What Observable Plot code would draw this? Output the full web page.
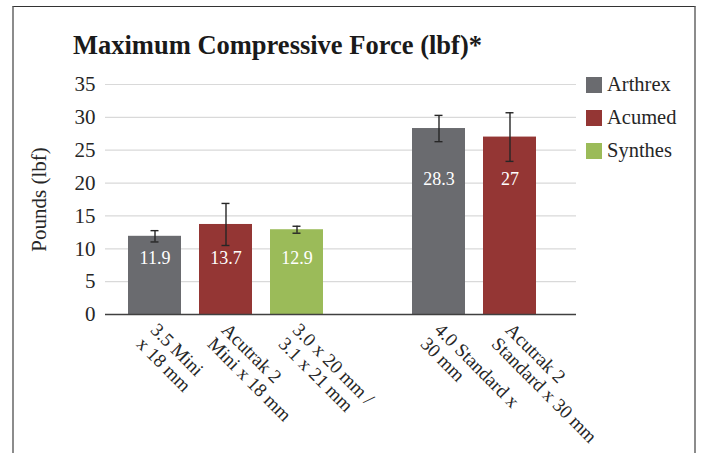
<!DOCTYPE html>
<html><head><meta charset="utf-8">
<script src="https://cdn.jsdelivr.net/npm/d3@7"></script>
<script src="https://cdn.jsdelivr.net/npm/@observablehq/plot@0.6"></script>
<style>
body{margin:0;background:#fff;}
#wrap{position:relative;width:702px;height:453px;overflow:hidden;font-family:"Liberation Serif","Times New Roman",serif;}
#frame{position:absolute;left:12px;top:6px;width:680px;height:470px;border-top:1.5px solid #333;border-left:2px solid #8c8c8c;border-right:2px solid #8c8c8c;}
#title{position:absolute;left:73px;top:30px;font-family:"Liberation Serif",serif;font-weight:bold;font-size:26.5px;color:#1a1a1a;white-space:nowrap;}
#legend{position:absolute;left:586px;top:68px;}
.item{display:flex;align-items:center;height:33px;font-family:"Liberation Serif",serif;font-size:20.5px;color:#262626;}
.sw{width:16px;height:16px;margin-right:5px;}
#chart svg{position:absolute;left:0;top:0;}
#chart svg text{font-family:"Liberation Serif","Times New Roman",serif !important;}
</style></head>
<body>
<div id="wrap">
  <div id="frame"></div>
  <div id="chart"></div>
  <div id="title">Maximum Compressive Force (lbf)*</div>
  <div id="legend"></div>
</div>
<script>
const categories = ["3.5 Mini\nx 18 mm", "Acutrak 2\nMini x 18 mm", "3.0 x 20 mm /\n3.1 x 21 mm", "4.0 Standard x\n30 mm", "Acutrak 2\nStandard x 30 mm"];
const brands = ["Arthrex", "Acumed", "Synthes", "Arthrex", "Acumed"];
const groups = [1, 1, 1, 2, 2];
const values = [11.9, 13.7, 12.9, 28.3, 27];
const errors = [0.86, 3.2, 0.53, 2.0, 3.7];
const yTicks = [0, 5, 10, 15, 20, 25, 30, 35];
const legendNames = ["Arthrex", "Acumed", "Synthes"];
const legendColors = ["#6a6b6f", "#943634", "#9bbb59"];
const gap = " ";
const xDomain = [...categories.slice(0, 3), gap, ...categories.slice(3)];

const data = categories.map((c, i) => ({cat: c, brand: brands[i], value: values[i], err: errors[i], group: groups[i]}));
const firstOfGroup = {};
data.forEach(d => { if (!(d.group in firstOfGroup)) firstOfGroup[d.group] = d.value; });
const labelY = d => firstOfGroup[d.group] * 0.725;

const chart = Plot.plot({
  width: 702, height: 453,
  marginTop: 84, marginBottom: 139, marginLeft: 105, marginRight: 126,
  style: {fontFamily: "'Liberation Serif','Times New Roman',serif", background: "transparent", overflow: "visible", color: "#262626"},
  x: {domain: xDomain, paddingInner: 0.255, paddingOuter: 0.44, align: 0.364, label: null},
  y: {domain: [0, 35], label: "Pounds (lbf)"},
  color: {domain: legendNames, range: legendColors},
  marks: [
    Plot.gridY(yTicks, {stroke: "#d9d9d9", strokeOpacity: 1, strokeWidth: 1.2}),
    Plot.axisY(yTicks, {tickSize: 0, tickPadding: 10, fontSize: 21, label: "Pounds (lbf)", labelAnchor: "center", labelArrow: "none", labelOffset: 74}),
    Plot.barY(data, {x: "cat", y: "value", fill: "brand"}),
    Plot.ruleY([0], {stroke: "#404040", strokeWidth: 1.5}),
    Plot.ruleX(data, {x: "cat", y1: d => d.value - d.err, y2: d => d.value + d.err, stroke: "#262626", strokeWidth: 1.4}),
    Plot.tickY(data, {x: "cat", y: d => d.value + d.err, insetLeft: 22.5, insetRight: 22.5, stroke: "#262626", strokeWidth: 1.4}),
    Plot.tickY(data, {x: "cat", y: d => d.value - d.err, insetLeft: 22.5, insetRight: 22.5, stroke: "#262626", strokeWidth: 1.4}),
    Plot.text(data, {x: "cat", y: labelY, text: d => String(d.value), fill: "white", fontSize: 18}),
    Plot.axisX({tickSize: 0, tickRotate: 45, tickPadding: 19, dx: -8, fontSize: 19, lineHeight: 1.05, label: null, tickFormat: d => d === gap ? "" : d})
  ]
});
document.getElementById("chart").appendChild(chart);

const legend = document.getElementById("legend");
legendNames.forEach((n, i) => {
  const item = document.createElement("div");
  item.className = "item";
  const sw = document.createElement("div");
  sw.className = "sw";
  sw.style.background = legendColors[i];
  const t = document.createElement("span");
  t.textContent = n;
  item.appendChild(sw); item.appendChild(t);
  legend.appendChild(item);
});
</script>
</body></html>
